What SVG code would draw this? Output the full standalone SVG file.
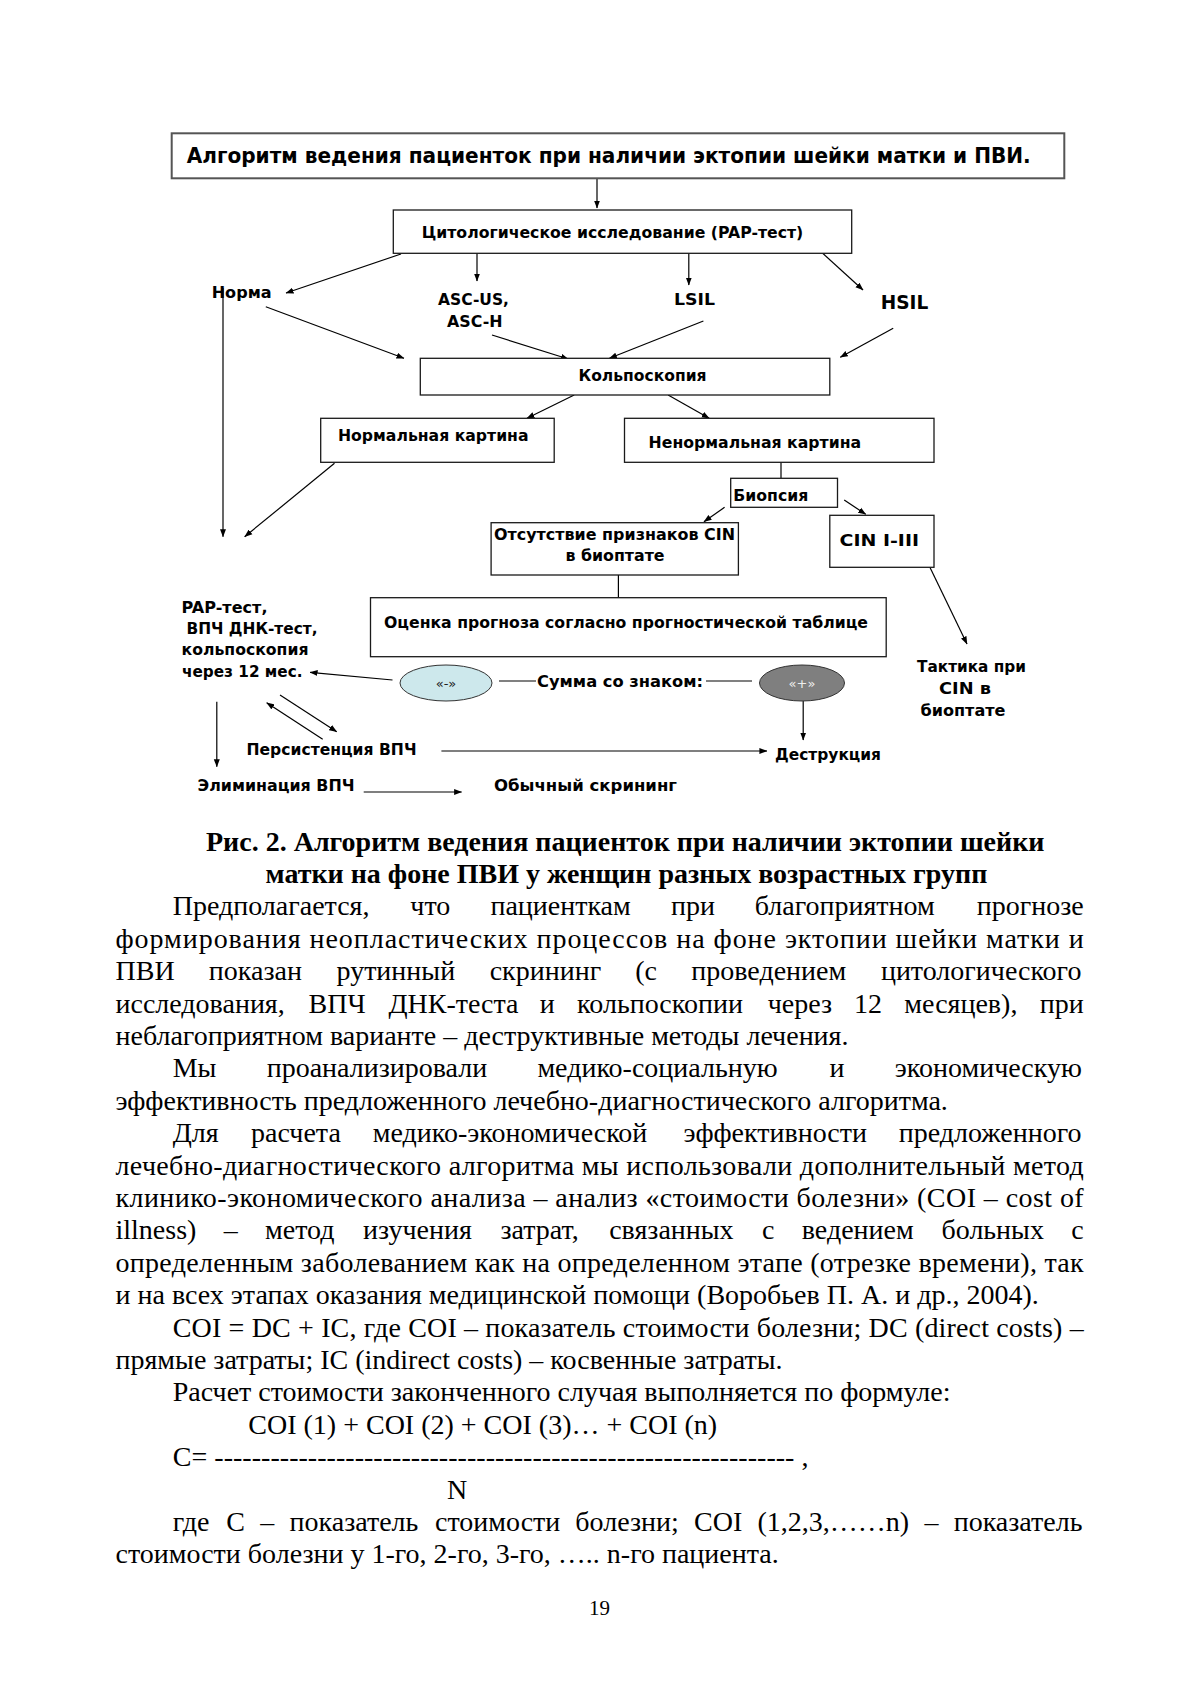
<svg xmlns="http://www.w3.org/2000/svg" width="1197" height="1693" viewBox="0 0 1197 1693">
<defs>
<marker id="ah" markerWidth="8" markerHeight="7" refX="7.5" refY="3.5" orient="auto" markerUnits="userSpaceOnUse"><path d="M0,0.5 L8,3.5 L0,6.5 z" fill="#000"/></marker>
<style>
.lb{font-family:"DejaVu Sans","Liberation Sans",sans-serif;font-weight:bold;font-size:16.5px;fill:#000}
.t{font-family:"Liberation Serif","Times New Roman",serif;font-size:28px;fill:#000}
.tb{font-family:"Liberation Serif","Times New Roman",serif;font-size:28px;font-weight:bold;fill:#000}
.box{fill:#fff;stroke:#1a1a1a;stroke-width:1.3}
.ln{fill:none;stroke:#000;stroke-width:1.2}
.ar{marker-end:url(#ah)}
.gl{stroke:#808080;stroke-width:2}
</style>
</defs>
<rect width="1197" height="1693" fill="#fff"/>

<g id="connectors">
<line class="ln ar" x1="597" y1="178.3" x2="597" y2="208"/>
<line class="ln ar" x1="401" y1="254" x2="286" y2="293"/>
<line class="ln ar" x1="477" y1="253.3" x2="477" y2="281"/>
<line class="ln ar" x1="688.8" y1="253.3" x2="688.8" y2="285"/>
<line class="ln ar" x1="822.7" y1="253.3" x2="863" y2="290"/>
<line class="ln ar" x1="265.8" y1="306.7" x2="404" y2="358.3"/>
<line class="ln ar" x1="492" y1="335" x2="568.3" y2="359"/>
<line class="ln ar" x1="703.4" y1="321" x2="609.4" y2="358.3"/>
<line class="ln ar" x1="893.2" y1="328.3" x2="840.3" y2="357.3"/>
<line class="ln ar" x1="574.2" y1="395" x2="527" y2="418.3"/>
<line class="ln ar" x1="668.1" y1="395" x2="709.2" y2="418.3"/>
<line class="ln" x1="781" y1="462.3" x2="781" y2="478.3"/>
<line class="ln ar" x1="724.6" y1="507.3" x2="704" y2="521.7"/>
<line class="ln ar" x1="844.2" y1="500" x2="865.7" y2="514.3"/>
<line class="ln" x1="618.4" y1="575" x2="618.4" y2="597.7"/>
<line class="ln ar" x1="223" y1="288" x2="223" y2="536.7"/>
<line class="ln ar" x1="334.5" y1="463.3" x2="244.7" y2="536.7"/>
<line class="ln ar" x1="929.9" y1="567.3" x2="967" y2="644"/>
<line class="ln ar" x1="392.5" y1="680" x2="310.1" y2="672.3"/>
<line class="ln ar" x1="803.2" y1="701" x2="803.2" y2="740"/>
<line class="ln ar" x1="441.4" y1="751" x2="766.9" y2="751"/>
<line class="ln ar" x1="216.8" y1="701.7" x2="216.8" y2="766.7"/>
<line class="ln ar" x1="280" y1="695" x2="336.7" y2="731.7"/>
<line class="ln ar" x1="322.7" y1="739.3" x2="266.7" y2="702.7"/>
<line class="ln ar" x1="363.7" y1="792" x2="461.6" y2="792"/>
<line class="gl" x1="499" y1="681" x2="536" y2="681"/>
<line class="gl" x1="706" y1="681" x2="752" y2="681"/>
</g>

<g id="title">
<rect x="171.7" y="133.3" width="892.6" height="45" fill="#fff" stroke="#555" stroke-width="2"/>
<text class="lb" x="186.7" y="162.5" style="font-size:22px" textLength="844" lengthAdjust="spacingAndGlyphs">Алгоритм ведения пациенток при наличии эктопии шейки матки и ПВИ.</text>
</g>
<g id="cyto">
<rect class="box" x="393.3" y="210" width="458.4" height="43.3"/>
<text class="lb" x="421.7" y="237.5" textLength="381.6" lengthAdjust="spacingAndGlyphs">Цитологическое исследование (PAP-тест)</text>
</g>
<g id="norma"><text class="lb" x="211.7" y="298.3" textLength="59.9" lengthAdjust="spacingAndGlyphs">Норма</text></g>
<g id="ascus">
<text class="lb" x="438" y="305" textLength="71" lengthAdjust="spacingAndGlyphs">ASC-US,</text>
<text class="lb" x="447" y="326.7" textLength="55.5" lengthAdjust="spacingAndGlyphs">ASC-H</text>
</g>
<g id="lsil"><text class="lb" x="674" y="305" textLength="41" lengthAdjust="spacingAndGlyphs">LSIL</text></g>
<g id="hsil"><text class="lb" x="880.8" y="308.5" style="font-size:20px" textLength="47.5" lengthAdjust="spacingAndGlyphs">HSIL</text></g>
<g id="kolpo">
<rect class="box" x="420.3" y="358.3" width="409.5" height="36.7"/>
<text class="lb" x="578.5" y="380.5" textLength="128" lengthAdjust="spacingAndGlyphs">Кольпоскопия</text>
</g>
<g id="normal">
<rect class="box" x="320.7" y="418.3" width="233.5" height="44"/>
<text class="lb" x="338" y="441" textLength="190.5" lengthAdjust="spacingAndGlyphs">Нормальная картина</text>
</g>
<g id="abnormal">
<rect class="box" x="624.5" y="418.3" width="309.5" height="44"/>
<text class="lb" x="648.6" y="448.3" textLength="212.5" lengthAdjust="spacingAndGlyphs">Ненормальная картина</text>
</g>
<g id="biopsy">
<rect class="box" x="730.7" y="478.3" width="106.8" height="29"/>
<text class="lb" x="733.3" y="500.5" textLength="75" lengthAdjust="spacingAndGlyphs">Биопсия</text>
</g>
<g id="nocin">
<rect class="box" x="491.1" y="522.7" width="247.3" height="52.3"/>
<text class="lb" x="494" y="539.5" textLength="241" lengthAdjust="spacingAndGlyphs">Отсутствие признаков CIN</text>
<text class="lb" x="565.5" y="560.5" textLength="99" lengthAdjust="spacingAndGlyphs">в биоптате</text>
</g>
<g id="cin">
<rect class="box" x="829.8" y="515.3" width="104.2" height="52"/>
<text class="lb" x="839.5" y="546" textLength="79.5" lengthAdjust="spacingAndGlyphs">CIN I-III</text>
</g>
<g id="ocenka">
<rect class="box" x="370.5" y="597.7" width="515.7" height="59"/>
<text class="lb" x="384" y="628" textLength="484" lengthAdjust="spacingAndGlyphs">Оценка прогноза согласно прогностической таблице</text>
</g>
<g id="pap">
<text class="lb" x="181.5" y="612.7" textLength="86" lengthAdjust="spacingAndGlyphs">PAP-тест,</text>
<text class="lb" x="186.5" y="634" textLength="131" lengthAdjust="spacingAndGlyphs">ВПЧ ДНК-тест,</text>
<text class="lb" x="181.5" y="654.5" textLength="127" lengthAdjust="spacingAndGlyphs">кольпоскопия</text>
<text class="lb" x="182" y="676.7" textLength="120.5" lengthAdjust="spacingAndGlyphs">через 12 мес.</text>
</g>
<g id="minus">
<ellipse cx="446" cy="683" rx="46" ry="18" fill="#cde8ec" stroke="#333" stroke-width="1"/>
<text x="446" y="688" text-anchor="middle" style="font-family:'DejaVu Sans',sans-serif;font-size:13px" fill="#222">«-»</text>
</g>
<g id="summa"><text class="lb" x="537" y="687" textLength="166" lengthAdjust="spacingAndGlyphs">Сумма со знаком:</text></g>
<g id="plus">
<ellipse cx="802" cy="683" rx="42.5" ry="18" fill="#7f7f7f" stroke="#333" stroke-width="1"/>
<text x="802" y="688" text-anchor="middle" style="font-family:'DejaVu Sans',sans-serif;font-size:13px" fill="#eee">«+»</text>
</g>
<g id="taktika">
<text class="lb" x="917" y="671.5" textLength="109" lengthAdjust="spacingAndGlyphs">Тактика при</text>
<text class="lb" x="939" y="693.5" textLength="52" lengthAdjust="spacingAndGlyphs">CIN в</text>
<text class="lb" x="920.5" y="715.5" textLength="85" lengthAdjust="spacingAndGlyphs">биоптате</text>
</g>
<g id="persist"><text class="lb" x="246.5" y="755" textLength="170" lengthAdjust="spacingAndGlyphs">Персистенция ВПЧ</text></g>
<g id="destr"><text class="lb" x="775" y="760" textLength="106" lengthAdjust="spacingAndGlyphs">Деструкция</text></g>
<g id="elim"><text class="lb" x="197.5" y="791" textLength="157" lengthAdjust="spacingAndGlyphs">Элиминация ВПЧ</text></g>
<g id="screen"><text class="lb" x="494" y="791" textLength="183" lengthAdjust="spacingAndGlyphs">Обычный скрининг</text></g>

<g id="caption">
<text class="tb" x="206" y="850.5">Рис. 2. Алгоритм ведения пациенток при наличии эктопии шейки</text>
<text class="tb" x="265.5" y="882.9">матки на фоне ПВИ у женщин разных возрастных групп</text>
</g>

<g id="body">
<text class="t" y="915.3"><tspan x="172.7">Предполагается,</tspan><tspan x="410.3">что</tspan><tspan x="490.4">пациенткам</tspan><tspan x="671">при</tspan><tspan x="754.7">благоприятном</tspan><tspan x="976.8">прогнозе</tspan></text>
<text class="t" x="115.5" y="947.7" textLength="968.2" lengthAdjust="spacing">формирования неопластических процессов на фоне эктопии шейки матки и</text>
<text class="t" y="980.1"><tspan x="115.5">ПВИ</tspan><tspan x="208.8">показан</tspan><tspan x="336.5">рутинный</tspan><tspan x="489.7">скрининг</tspan><tspan x="635.3">(с</tspan><tspan x="691.3">проведением</tspan><tspan x="880.9">цитологического</tspan></text>
<text class="t" y="1012.5"><tspan x="115.5">исследования,</tspan><tspan x="308.5">ВПЧ</tspan><tspan x="388.4">ДНК-теста</tspan><tspan x="539.8">и</tspan><tspan x="577.1">кольпоскопии</tspan><tspan x="767.7">через</tspan><tspan x="854">12</tspan><tspan x="904.3">месяцев),</tspan><tspan x="1039.7">при</tspan></text>
<text class="t" x="115.5" y="1044.9">неблагоприятном варианте – деструктивные методы лечения.</text>
<text class="t" y="1077.3"><tspan x="172.7">Мы</tspan><tspan x="266.7">проанализировали</tspan><tspan x="537.4">медико-социальную</tspan><tspan x="829.5">и</tspan><tspan x="894.8">экономическую</tspan></text>
<text class="t" x="115.5" y="1109.7">эффективность предложенного лечебно-диагностического алгоритма.</text>
<text class="t" y="1142.1"><tspan x="172.7">Для</tspan><tspan x="251">расчета</tspan><tspan x="372.7">медико-экономической</tspan><tspan x="683.6">эффективности</tspan><tspan x="898.7">предложенного</tspan></text>
<text class="t" x="115.5" y="1174.5" textLength="968.2" lengthAdjust="spacing">лечебно-диагностического алгоритма мы использовали дополнительный метод</text>
<text class="t" x="115.5" y="1206.9" textLength="968.2" lengthAdjust="spacing">клинико-экономического анализа – анализ «стоимости болезни» (COI – cost of</text>
<text class="t" y="1239.3"><tspan x="115.5">illness)</tspan><tspan x="223.7">–</tspan><tspan x="265.1">метод</tspan><tspan x="363">изучения</tspan><tspan x="500.5">затрат,</tspan><tspan x="609.2">связанных</tspan><tspan x="762">с</tspan><tspan x="801.8">ведением</tspan><tspan x="941.5">больных</tspan><tspan x="1071.3">с</tspan></text>
<text class="t" x="115.5" y="1271.7" textLength="968.2" lengthAdjust="spacing">определенным заболеванием как на определенном этапе (отрезке времени), так</text>
<text class="t" x="115.5" y="1304.1">и на всех этапах оказания медицинской помощи (Воробьев П. А. и др., 2004).</text>
<text class="t" x="172.7" y="1336.5" textLength="911" lengthAdjust="spacing">COI = DC + IC, где COI – показатель стоимости болезни; DC (direct costs) –</text>
<text class="t" x="115.5" y="1368.9">прямые затраты; IC (indirect costs) – косвенные затраты.</text>
<text class="t" x="172.7" y="1401.3">Расчет стоимости законченного случая выполняется по формуле:</text>
<text class="t" x="248.3" y="1433.7">COI (1) + COI (2) + COI (3)… + COI (n)</text>
<text class="t" x="172.7" y="1466.1" textLength="635.8" lengthAdjust="spacing">C= -------------------------------------------------------------- ,</text>
<text class="t" x="446.9" y="1498.5">N</text>
<text class="t" y="1530.9"><tspan x="172.7">где</tspan><tspan x="226.2">C</tspan><tspan x="260.3">–</tspan><tspan x="289.6">показатель</tspan><tspan x="435">стоимости</tspan><tspan x="575.3">болезни;</tspan><tspan x="694">COI</tspan><tspan x="757.5">(1,2,3,……n)</tspan><tspan x="924.4">–</tspan><tspan x="953.7">показатель</tspan></text>
<text class="t" x="115.5" y="1563.3">стоимости болезни у 1-го, 2-го, 3-го, ….. n-го пациента.</text>
<text class="t" x="599.5" y="1615" text-anchor="middle" style="font-size:21px">19</text>
</g>
</svg>
